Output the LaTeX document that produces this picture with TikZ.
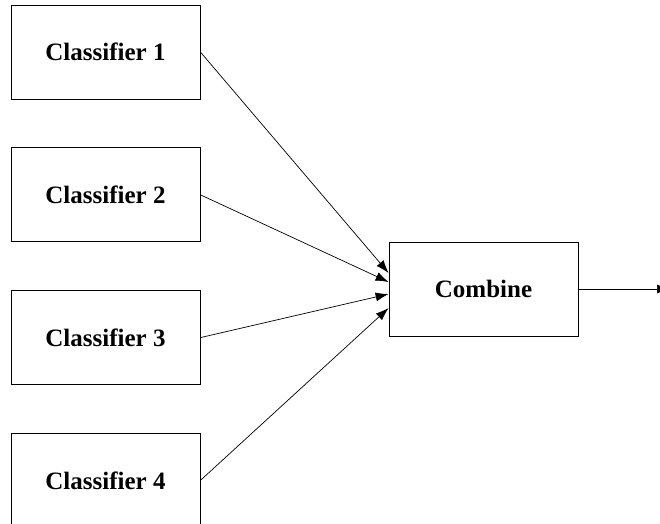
\documentclass[tikz,border=0pt]{standalone}
\usepackage{fontspec}
\setmainfont{Liberation Serif}
\usetikzlibrary{arrows.meta, positioning}

\begin{document}
\begin{tikzpicture}[
    x=1pt, y=-1pt,
    every node/.style={font=\fontsize{25}{30}\selectfont\bfseries},
    box/.style={draw,rectangle,line width=0.8pt,minimum width=189pt,minimum height=94pt,inner sep=0pt},
    arr/.style={-{Latex[length=13pt,width=9pt]},line width=0.7pt}
]
\useasboundingbox (0,0) rectangle (660,523);

% Classifiers (left column)
\node[box] (c1) at (105.5,52) {Classifier 1};
\node[box, below=48pt of c1] (c2) {Classifier 2};
\node[box, below=48pt of c2] (c3) {Classifier 3};
\node[box, below=48pt of c3] (c4) {Classifier 4};

% Combiner
\node[box] (comb) at (483.5,289) {Combine};
\coordinate (out) at (670,289);

% Connections
\draw[arr] (c1.east) -- ([yshift=16pt]comb.west);
\draw[arr] (c2.east) -- ([yshift=7pt]comb.west);
\draw[arr] (c3.east) -- ([yshift=-5pt]comb.west);
\draw[arr] (c4.east) -- ([yshift=-19pt]comb.west);

% Output
\draw[arr] (comb.east) -- (out);

\end{tikzpicture}
\end{document}
